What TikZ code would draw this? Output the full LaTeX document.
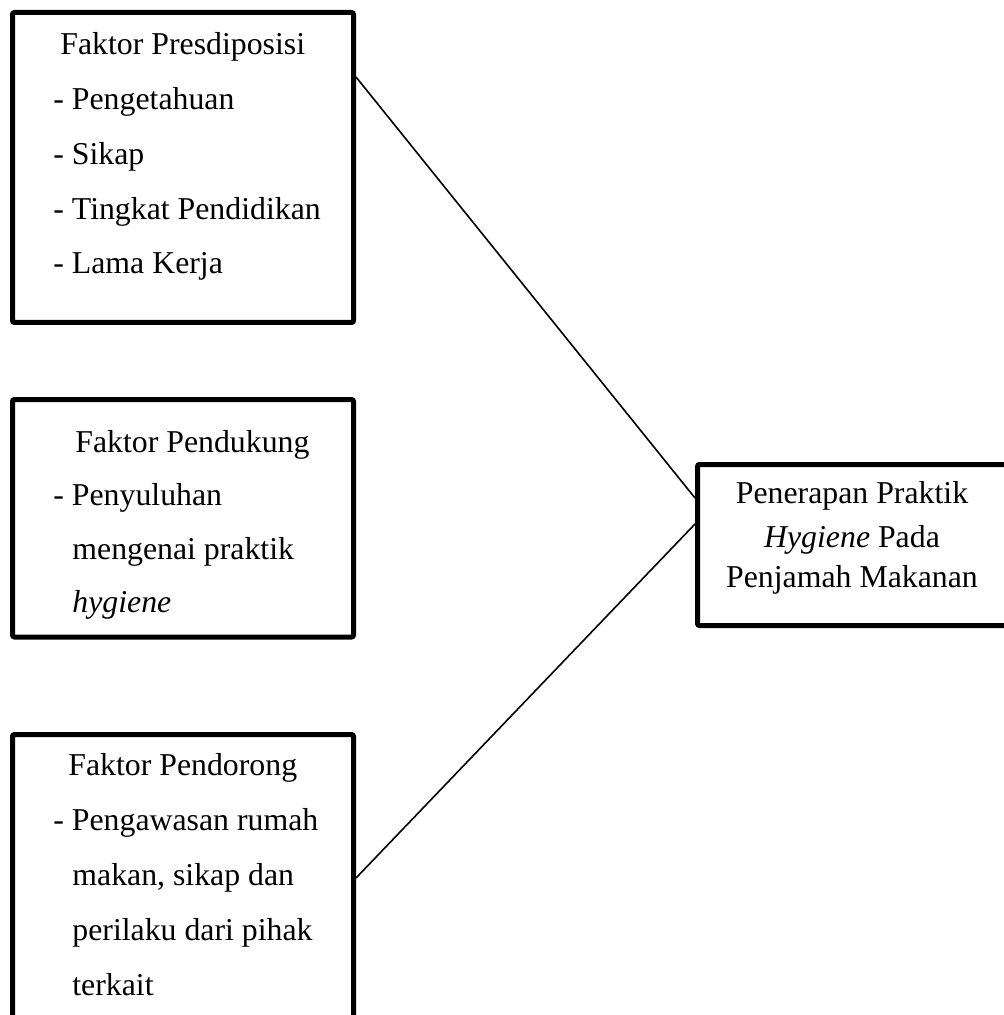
\documentclass[tikz,border=0pt]{standalone}
\usepackage{fontspec}
\setmainfont{Liberation Serif}
\usetikzlibrary{calc}
\tikzset{
  box/.style={draw=black, line width=2.5pt, rounded corners=1pt, inner sep=0pt, fill=none},
  txt/.style={inner sep=0pt, anchor=base west, font=\fontsize{15.9}{19}\selectfont},
  ctxt/.style={inner sep=0pt, anchor=base, font=\fontsize{15.9}{19}\selectfont},
  link/.style={draw=black, line width=0.8pt}
}
\begin{document}
\begin{tikzpicture}[x=0.5pt,y=-0.5pt]
\clip (0,0) rectangle (1004,1015);
\fill[white] (0,0) rectangle (1004,1015);
% boxes
\node[box, minimum width=170.5pt, minimum height=155pt] (b1) at (183,167.5) {};
\node[box, minimum width=170.5pt, minimum height=118.75pt] (b2) at (183,518.25) {};
\node[box, minimum width=170.5pt, minimum height=152.75pt] (b3) at (183,887.25) {};
\node[box, minimum width=161.25pt, minimum height=80.5pt] (b4) at (858.75,545) {};
% box 1 text
\node[txt] (t11) at (60,55) {Faktor Presdiposisi};
\node[txt] (t12) at (53,110) {- Pengetahuan};
\node[txt] (t13) at (53,165) {- Sikap};
\node[txt] (t14) at (53,220) {- Tingkat Pendidikan};
\node[txt] (t15) at (53,274) {- Lama Kerja};
% box 2 text
\node[txt] (t21) at (75,452) {Faktor Pendukung};
\node[txt] (t22) at (53,505) {- Penyuluhan};
\node[txt] (t23) at (72,559) {mengenai praktik};
\node[txt] (t24) at (72,612) {\textit{hygiene}};
% box 3 text
\node[txt] (t31) at (68,775) {Faktor Pendorong};
\node[txt] (t32) at (53,830) {- Pengawasan rumah};
\node[txt] (t33) at (72,885) {makan, sikap dan};
\node[txt] (t34) at (72,940) {perilaku dari pihak};
\node[txt] (t35) at (72,995) {terkait};
% box 4 text
\node[ctxt] (t41) at (852,503) {Penerapan Praktik};
\node[ctxt] (t42) at (852,547) {\textit{Hygiene} Pada};
\node[ctxt] (t43) at (852,587) {Penjamah Makanan};
% connectors
\coordinate (p1) at ($(b1.north east)+(0,67)$);
\coordinate (q1) at ($(b4.north west)+(0,36)$);
\coordinate (p2) at ($(b3.north east)+(0,146)$);
\coordinate (q2) at ($(b4.north west)+(0,62)$);
\draw[link] (p1) -- (q1);
\draw[link] (p2) -- (q2);
\end{tikzpicture}
\end{document}
